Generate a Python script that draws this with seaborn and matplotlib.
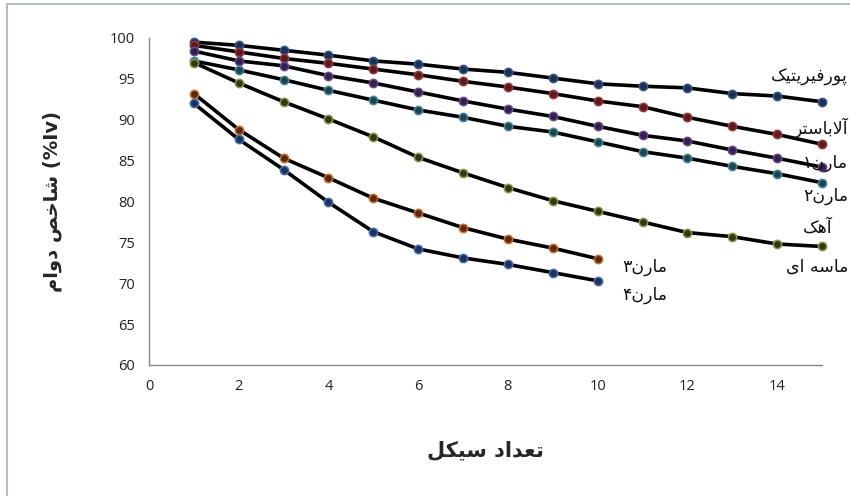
import numpy as np
import pandas as pd
import seaborn as sns
import matplotlib.pyplot as plt

# --- data ---
cycles = list(range(1, 16))
porphyritic = [99.5, 99.1, 98.5, 97.9, 97.2, 96.8, 96.2, 95.8, 95.1, 94.4, 94.1, 93.9, 93.2, 92.9, 92.2]
alabaster = [99.1, 98.3, 97.5, 96.9, 96.2, 95.5, 94.7, 94.0, 93.2, 92.3, 91.6, 90.3, 89.2, 88.2, 87.0]
marl1 = [98.4, 97.2, 96.6, 95.4, 94.5, 93.4, 92.3, 91.3, 90.4, 89.2, 88.1, 87.4, 86.3, 85.3, 84.2]
marl2 = [97.2, 96.1, 94.9, 93.6, 92.4, 91.2, 90.3, 89.2, 88.5, 87.3, 86.1, 85.3, 84.3, 83.4, 82.3]
sandy_lime = [97.0, 94.5, 92.2, 90.1, 87.9, 85.4, 83.5, 81.7, 80.1, 78.8, 77.5, 76.2, 75.7, 74.8, 74.5]
cycles_short = list(range(1, 11))
marl3 = [93.2, 88.8, 85.3, 82.9, 80.4, 78.6, 76.8, 75.4, 74.3, 73.0]
marl4 = [92.0, 87.6, 83.9, 79.9, 76.3, 74.2, 73.1, 72.3, 71.3, 70.3]

x_ticks = [0, 2, 4, 6, 8, 10, 12, 14]
y_ticks = [60, 65, 70, 75, 80, 85, 90, 95, 100]

# --- minimal Persian shaping (matplotlib has no bidi / joining) ---
FORMS = {  # isolated, final, initial, medial
    'ا': ('\uFE8D', '\uFE8E', None, None),
    'آ': ('\uFE81', '\uFE82', None, None),
    'ب': ('\uFE8F', '\uFE90', '\uFE91', '\uFE92'),
    'پ': ('\uFB56', '\uFB57', '\uFB58', '\uFB59'),
    'ت': ('\uFE95', '\uFE96', '\uFE97', '\uFE98'),
    'خ': ('\uFEA5', '\uFEA6', '\uFEA7', '\uFEA8'),
    'د': ('\uFEA9', '\uFEAA', None, None),
    'ر': ('\uFEAD', '\uFEAE', None, None),
    'س': ('\uFEB1', '\uFEB2', '\uFEB3', '\uFEB4'),
    'ش': ('\uFEB5', '\uFEB6', '\uFEB7', '\uFEB8'),
    'ص': ('\uFEB9', '\uFEBA', '\uFEBB', '\uFEBC'),
    'ع': ('\uFEC9', '\uFECA', '\uFECB', '\uFECC'),
    'ف': ('\uFED1', '\uFED2', '\uFED3', '\uFED4'),
    'ک': ('\uFB8E', '\uFB8F', '\uFB90', '\uFB91'),
    'ل': ('\uFEDD', '\uFEDE', '\uFEDF', '\uFEE0'),
    'م': ('\uFEE1', '\uFEE2', '\uFEE3', '\uFEE4'),
    'ن': ('\uFEE5', '\uFEE6', '\uFEE7', '\uFEE8'),
    'ه': ('\uFEE9', '\uFEEA', '\uFEEB', '\uFEEC'),
    'و': ('\uFEED', '\uFEEE', None, None),
    'ی': ('\uFBFC', '\uFBFD', '\uFBFE', '\uFBFF'),
}
LAM_ALEF = {'ا': ('\uFEFB', '\uFEFC'), 'آ': ('\uFEF5', '\uFEF6')}


def joins_left(c):
    return c in FORMS and FORMS[c][2] is not None


def fa(text):
    res = []
    i = 0
    while i < len(text):
        c = text[i]
        prev = text[i - 1] if i > 0 else ''
        nxt = text[i + 1] if i + 1 < len(text) else ''
        jp = joins_left(prev)
        if c == 'ل' and nxt in LAM_ALEF:
            res.append(LAM_ALEF[nxt][1 if jp else 0])
            i += 2
            continue
        if c not in FORMS:
            res.append(c)
            i += 1
            continue
        iso, fin, ini, med = FORMS[c]
        jn = ini is not None and nxt in FORMS
        if jp and jn:
            res.append(med)
        elif jp:
            res.append(fin)
        elif jn:
            res.append(ini)
        else:
            res.append(iso)
        i += 1
    return ''.join(reversed(res))


series = [
    (cycles, porphyritic, '#1c2f55', '#3d5a8a'),
    (cycles, alabaster, '#5a1a1e', '#9a3a3e'),
    (cycles, marl1, '#33204f', '#6a4a8a'),
    (cycles, marl2, '#1d4550', '#4a8a9a'),
    (cycles, sandy_lime, '#2e3a14', '#8a9a4a'),
    (cycles_short, marl3, '#5a2a10', '#c8702e'),
    (cycles_short, marl4, '#1c3160', '#4a6fae'),
]

sns.set_style("white")
plt.rcParams['font.family'] = ['DejaVu Sans']

fig = plt.figure(figsize=(8.5, 4.96), dpi=100)
ax = fig.add_axes([149 / 850, 1 - 365 / 496, 673 / 850, 327 / 496])

for xs, ys, face, edge in series:
    sns.lineplot(x=xs, y=ys, ax=ax, color='black', linewidth=2.6, marker='o',
                 markersize=6, markerfacecolor=face, markeredgecolor=edge,
                 markeredgewidth=1.1, clip_on=False, zorder=3)

ax.set_xlim(0, 15)
ax.set_ylim(60, 100)
ax.set_xticks(x_ticks)
ax.set_yticks(y_ticks)
ax.tick_params(axis='both', direction='out', length=4, width=1, color='#868686',
               labelsize=10.5, labelcolor='#222222', pad=6)
for lab in ax.get_xticklabels() + ax.get_yticklabels():
    lab.set_fontfamily('Open Sans')
for side in ['top', 'right']:
    ax.spines[side].set_visible(False)
for side in ['left', 'bottom']:
    ax.spines[side].set_color('#868686')
    ax.spines[side].set_linewidth(1)

ax.set_xlabel(fa('تعداد سیکل'), fontsize=15, fontweight='bold')
ax.xaxis.set_label_coords(0.5, -0.23)
ax.set_ylabel(fa('شاخص دوام') + ' (%Iv)', fontsize=14, fontweight='bold')
ax.yaxis.set_label_coords(-0.13, 0.5)

# series labels (right-aligned ones sit against the chart's right edge)
labels = [
    ('پورفیریتیک', 15.58, 95.2, 'right'),
    ('آلاباستر', 15.58, 89.0, 'right'),
    ('مارن۱', 15.58, 84.7, 'right'),
    ('مارن۲', 15.58, 80.7, 'right'),
    ('آهک', 15.23, 76.8, 'right'),
    ('ماسه ای', 15.58, 72.0, 'right'),
    ('مارن۳', 10.55, 72.0, 'left'),
    ('مارن۴', 10.55, 68.6, 'left'),
]
for txt, lx, ly, ha in labels:
    ax.text(lx, ly, fa(txt), fontsize=12.5, ha=ha, va='center', color='#111111',
            clip_on=False)

# outer chart frame
fig.patches.append(plt.Rectangle((7 / 850, -0.05), 1.2, 1.042, transform=fig.transFigure,
                                 fill=False, edgecolor='#9fb3c8', linewidth=1.2))

fig.savefig('out.png', dpi=100)
